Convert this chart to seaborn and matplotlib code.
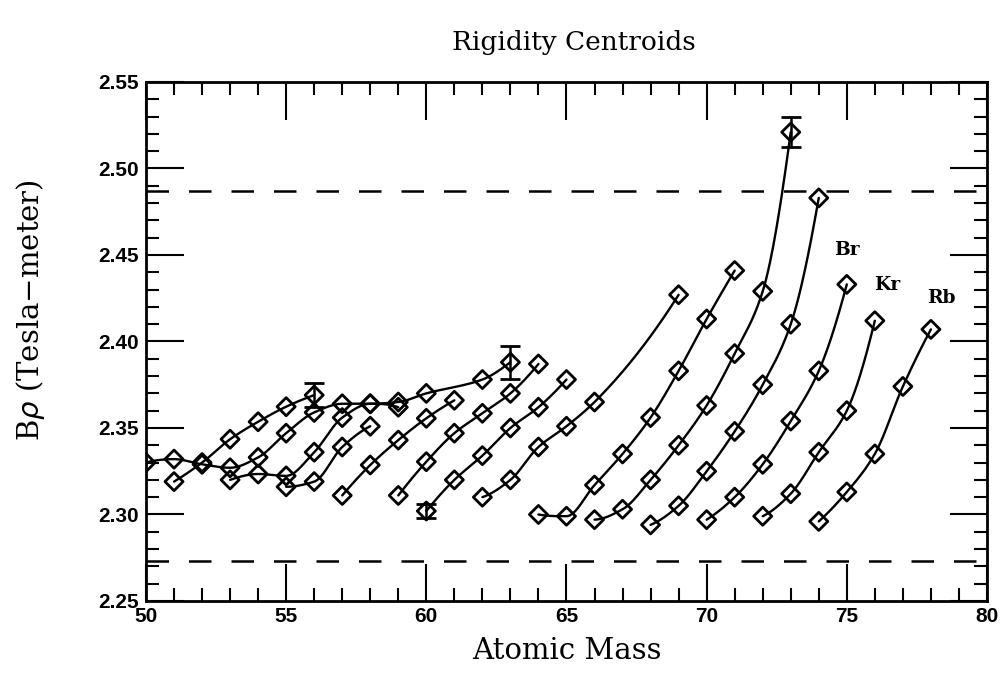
import numpy as np
import pandas as pd
import matplotlib
matplotlib.use("Agg")
import matplotlib.pyplot as plt
import seaborn as sns
from matplotlib.ticker import MultipleLocator, FormatStrFormatter

# ---------------- data ----------------
mass_c50 = [50, 51, 52, 53, 54, 55, 56, 57, 58, 59, 60, 62, 63]
brho_c50 = [2.330, 2.332, 2.329, 2.327, 2.333, 2.347, 2.359, 2.364, 2.364, 2.365, 2.370, 2.378, 2.388]
mass_c51 = [51, 52, 53, 54, 55, 56]
brho_c51 = [2.319, 2.330, 2.3435, 2.3536, 2.3623, 2.369]
mass_c53 = [53, 54, 55, 56, 57, 58, 59]
brho_c53 = [2.320, 2.3234, 2.3223, 2.336, 2.356, 2.364, 2.362]
mass_c55 = [55, 56, 57, 58]
brho_c55 = [2.316, 2.319, 2.339, 2.351]
mass_c57 = [57, 58, 59, 60, 61]
brho_c57 = [2.311, 2.3286, 2.343, 2.3556, 2.366]
mass_c59 = [59, 60, 61, 62, 63, 64]
brho_c59 = [2.311, 2.3305, 2.347, 2.3585, 2.370, 2.387]
mass_c60 = [60, 61, 62, 63, 64, 65]
brho_c60 = [2.302, 2.320, 2.334, 2.350, 2.362, 2.378]
mass_c62 = [62, 63, 64, 65, 66, 69]
brho_c62 = [2.310, 2.320, 2.339, 2.351, 2.365, 2.427]
mass_ge = [64, 65, 66, 67, 68, 69, 70, 71]
brho_ge = [2.300, 2.299, 2.317, 2.335, 2.356, 2.383, 2.413, 2.441]
mass_as = [66, 67, 68, 69, 70, 71, 72, 73]
brho_as = [2.297, 2.303, 2.320, 2.340, 2.363, 2.393, 2.429, 2.521]
mass_se = [68, 69, 70, 71, 72, 73, 74]
brho_se = [2.294, 2.305, 2.325, 2.348, 2.375, 2.410, 2.483]
mass_br = [70, 71, 72, 73, 74, 75]
brho_br = [2.297, 2.310, 2.329, 2.354, 2.383, 2.433]
mass_kr = [72, 73, 74, 75, 76]
brho_kr = [2.299, 2.312, 2.336, 2.360, 2.412]
mass_rb = [74, 75, 76, 77, 78]
brho_rb = [2.296, 2.313, 2.335, 2.374, 2.407]

# error bars
err_mass = [56, 60, 63, 73]
err_brho = [2.369, 2.302, 2.388, 2.521]
err_size = [0.007, 0.004, 0.0095, 0.0085]

# dashed acceptance limits
limit_lo = 2.273
limit_hi = 2.487

# element labels
label_text = ["Br", "Kr", "Rb"]
label_mass = [75.0, 76.45, 78.36]
label_brho = [2.453, 2.4327, 2.425]

chains = [
    (mass_c50, brho_c50), (mass_c51, brho_c51), (mass_c53, brho_c53),
    (mass_c55, brho_c55), (mass_c57, brho_c57), (mass_c59, brho_c59),
    (mass_c60, brho_c60), (mass_c62, brho_c62), (mass_ge, brho_ge),
    (mass_as, brho_as), (mass_se, brho_se), (mass_br, brho_br),
    (mass_kr, brho_kr), (mass_rb, brho_rb),
]


def pchip(x, y, xs):
    x = np.asarray(x, float)
    y = np.asarray(y, float)
    h = np.diff(x)
    d = np.diff(y) / h
    n = len(x)
    m = np.zeros(n)
    if n == 2:
        m[:] = d[0]
    else:
        for k in range(1, n - 1):
            if d[k - 1] * d[k] <= 0:
                m[k] = 0.0
            else:
                w1 = 2 * h[k] + h[k - 1]
                w2 = h[k] + 2 * h[k - 1]
                m[k] = (w1 + w2) / (w1 / d[k - 1] + w2 / d[k])

        def end(h0, h1, d0, d1):
            v = ((2 * h0 + h1) * d0 - h0 * d1) / (h0 + h1)
            if np.sign(v) != np.sign(d0):
                v = 0.0
            elif np.sign(d0) != np.sign(d1) and abs(v) > abs(3 * d0):
                v = 3 * d0
            return v

        m[0] = end(h[0], h[1], d[0], d[1])
        m[-1] = end(h[-1], h[-2], d[-1], d[-2])
    idx = np.clip(np.searchsorted(x, xs) - 1, 0, n - 2)
    t = (xs - x[idx]) / h[idx]
    h00 = 2 * t**3 - 3 * t**2 + 1
    h10 = t**3 - 2 * t**2 + t
    h01 = -2 * t**3 + 3 * t**2
    h11 = t**3 - t**2
    return h00 * y[idx] + h10 * h[idx] * m[idx] + h01 * y[idx + 1] + h11 * h[idx] * m[idx + 1]


sns.set_theme(style="white")
plt.rcParams["font.family"] = ["DejaVu Serif"]
plt.rcParams["text.color"] = "black"
plt.rcParams["axes.labelcolor"] = "black"
plt.rcParams["xtick.color"] = "black"
plt.rcParams["ytick.color"] = "black"

fig = plt.figure(figsize=(10.02, 6.76), dpi=100)
ax = fig.add_axes([0.1457, 0.111, 0.8393, 0.7677])

curve_frames = []
point_frames = []
for i, (m, b) in enumerate(chains):
    xs = np.linspace(m[0], m[-1], 200)
    ys = pchip(m, b, xs)
    curve_frames.append(pd.DataFrame({"mass": xs, "brho": ys, "chain": i}))
    point_frames.append(pd.DataFrame({"mass": m, "brho": b, "chain": i}))
curves = pd.concat(curve_frames)
points = pd.concat(point_frames)

sns.lineplot(data=curves, x="mass", y="brho", units="chain", estimator=None,
             sort=False, color="black", lw=1.7, ax=ax, legend=False)
sns.scatterplot(data=points, x="mass", y="brho", marker="D", s=85,
                facecolor="none", edgecolor="black", linewidth=2.0, ax=ax,
                legend=False, zorder=4)
ax.errorbar(err_mass, err_brho, yerr=err_size, fmt="none", ecolor="black",
            elinewidth=1.8, capsize=7, capthick=2.0, zorder=5)

for yv in (limit_lo, limit_hi):
    ax.axhline(yv, color="black", lw=1.8, dashes=(9, 8), zorder=2)

for t, xm, yb in zip(label_text, label_mass, label_brho):
    ax.text(xm, yb, t, fontsize=13.5, fontweight="bold", ha="center", va="center",
            family="DejaVu Serif", color="black")

ax.set_xlim(50, 80)
ax.set_ylim(2.25, 2.55)
ax.xaxis.set_major_locator(MultipleLocator(5))
ax.xaxis.set_minor_locator(MultipleLocator(1))
ax.yaxis.set_major_locator(MultipleLocator(0.05))
ax.yaxis.set_minor_locator(MultipleLocator(0.01))
ax.tick_params(which="both", direction="in", top=True, right=True,
               bottom=True, left=True, color="black", width=1.5)
ax.tick_params(which="major", length=27)
ax.tick_params(which="minor", length=9.5)
ax.xaxis.set_major_formatter(FormatStrFormatter("%d"))
ax.yaxis.set_major_formatter(FormatStrFormatter("%.2f"))
for lab in ax.get_xticklabels() + ax.get_yticklabels():
    lab.set_family(["Liberation Sans Narrow", "Liberation Sans", "DejaVu Sans"])
    lab.set_fontweight("bold")
    lab.set_fontsize(15)
    lab.set_color("black")
ax.tick_params(axis="x", pad=4)
ax.tick_params(axis="y", pad=5)
for sp in ax.spines.values():
    sp.set_color("black")
    sp.set_linewidth(2.0)
    sp.set_visible(True)

ax.set_xlabel("Atomic Mass", fontsize=21, labelpad=8, color="black")
ax.set_ylabel("B$\\rho$ (Tesla\u2212meter)", fontsize=21, color="black")
ax.yaxis.set_label_coords(-0.118, 0.56)
fig.text(0.573, 0.937, "Rigidity Centroids", fontsize=19, ha="center", va="center",
         color="black")

fig.savefig("out.png", dpi=100, facecolor="white")
